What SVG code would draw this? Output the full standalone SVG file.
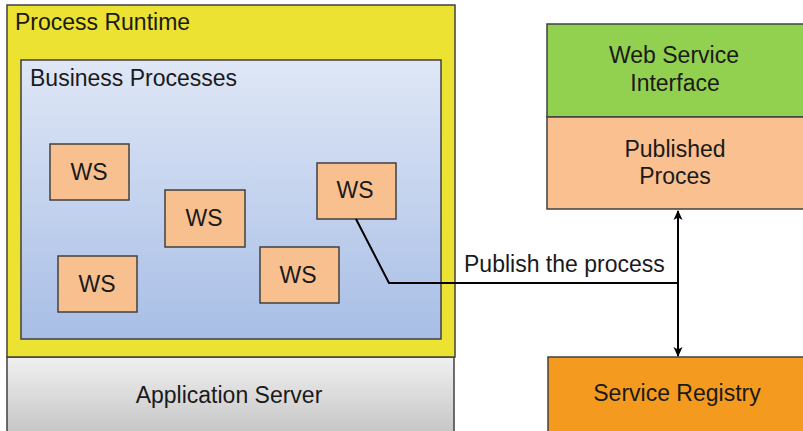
<svg xmlns="http://www.w3.org/2000/svg" width="803" height="431" viewBox="0 0 803 431">
  <defs>
    <linearGradient id="bpGrad" x1="0" y1="0" x2="0" y2="1">
      <stop offset="0" stop-color="#DFE7F6"/>
      <stop offset="1" stop-color="#A8BEE6"/>
    </linearGradient>
    <linearGradient id="asGrad" x1="0" y1="0" x2="0" y2="1">
      <stop offset="0" stop-color="#F0F0F0"/>
      <stop offset="1" stop-color="#C4C4C4"/>
    </linearGradient>
    <marker id="arrow" viewBox="0 0 10 10" refX="9" refY="5" markerWidth="11" markerHeight="10" markerUnits="userSpaceOnUse" orient="auto-start-reverse">
      <path d="M0,0.5 L10,5 L0,9.5 L2.5,5 z" fill="#000"/>
    </marker>
  </defs>
  <style>
    text { font-family: "Liberation Sans", Arial, sans-serif; font-size: 23px; fill: #1a1a1a; }
    .box { stroke: #404040; stroke-width: 1.5; }
    .ws { fill: #F9C08F; stroke: #404040; stroke-width: 1.5; }
    .mid { text-anchor: middle; }
    .conn { fill: none; stroke: #000; stroke-width: 2; }
  </style>

  <rect width="803" height="431" fill="#fff"/>

  <g id="application-server">
    <rect class="box" x="7" y="357" width="447" height="80" fill="url(#asGrad)"/>
    <text class="mid" x="229" y="403">Application Server</text>
  </g>

  <g id="process-runtime">
    <rect class="box" x="7" y="5" width="448" height="352" fill="#EBE232"/>
    <text x="15" y="30">Process Runtime</text>
  </g>

  <g id="business-processes">
    <rect class="box" x="21" y="60" width="420" height="279" fill="url(#bpGrad)"/>
    <text x="30" y="86">Business Processes</text>
  </g>

  <g id="ws-1">
    <rect class="ws" x="50" y="144" width="79" height="56"/>
    <text class="mid" x="89" y="180">WS</text>
  </g>
  <g id="ws-2">
    <rect class="ws" x="165" y="190" width="80" height="57"/>
    <text class="mid" x="204" y="226">WS</text>
  </g>
  <g id="ws-3">
    <rect class="ws" x="317" y="163" width="79" height="56"/>
    <text class="mid" x="355" y="198">WS</text>
  </g>
  <g id="ws-4">
    <rect class="ws" x="58" y="256" width="79" height="56"/>
    <text class="mid" x="97" y="292">WS</text>
  </g>
  <g id="ws-5">
    <rect class="ws" x="260" y="247" width="79" height="56"/>
    <text class="mid" x="298" y="283">WS</text>
  </g>

  <g id="web-service-interface">
    <rect class="box" x="547" y="24" width="262" height="93" fill="#92D050"/>
    <text class="mid" x="674" y="63">Web Service</text>
    <text class="mid" x="675" y="91">Interface</text>
  </g>

  <g id="published-process">
    <rect class="box" x="547" y="117" width="262" height="92" fill="#FAC090"/>
    <text class="mid" x="675" y="157">Published</text>
    <text class="mid" x="675" y="184">Proces</text>
  </g>

  <g id="service-registry">
    <rect class="box" x="548" y="357" width="262" height="80" fill="#F39A1F"/>
    <text class="mid" x="677" y="401">Service Registry</text>
  </g>

  <g id="connectors">
    <polyline class="conn" points="356,219 389,283 678,283"/>
    <line class="conn" x1="678" y1="283" x2="678" y2="211" marker-end="url(#arrow)"/>
    <line class="conn" x1="678" y1="283" x2="678" y2="356" marker-end="url(#arrow)"/>
    <text x="464" y="272">Publish the process</text>
  </g>
</svg>
